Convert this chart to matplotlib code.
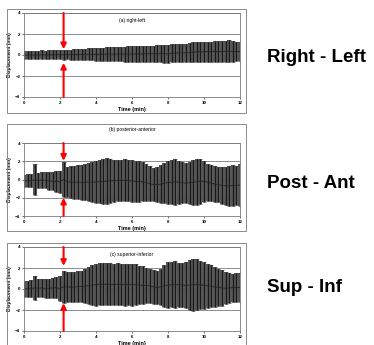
import matplotlib
matplotlib.use("Agg")
import matplotlib.pyplot as plt
from matplotlib.patches import Rectangle
import numpy as np

plt.rcParams["font.family"] = ["Liberation Sans", "DejaVu Sans"]

# time axis, one sample every 0.2 min
time_min = np.round(np.arange(0, 12.01, 0.2), 1)

rl_mean = [0.00, 0.00, 0.01, 0.00, 0.01, 0.02, 0.01, 0.02, 0.02, 0.03, 0.03,
           0.03, 0.04, 0.03, 0.04, 0.05, 0.05, 0.06, 0.05, 0.06, 0.07,
           0.07, 0.08, 0.08, 0.09, 0.08, 0.09, 0.10, 0.09, 0.10, 0.10,
           0.11, 0.10, 0.11, 0.12, 0.12, 0.11, 0.12, 0.13, 0.12, 0.10,
           0.15, 0.18, 0.20, 0.19, 0.21, 0.22, 0.28, 0.30, 0.31, 0.30,
           0.32, 0.31, 0.33, 0.32, 0.34, 0.35, 0.36, 0.34, 0.33, 0.35]
rl_sd = [0.36, 0.37, 0.38, 0.40, 0.39, 0.41, 0.40, 0.42, 0.41, 0.43, 0.44,
         0.46, 0.45, 0.47, 0.50, 0.52, 0.51, 0.55, 0.57, 0.58, 0.60,
         0.62, 0.63, 0.65, 0.66, 0.68, 0.67, 0.70, 0.71, 0.72, 0.74,
         0.75, 0.76, 0.75, 0.77, 0.78, 0.79, 0.80, 0.82, 0.84, 0.90,
         0.86, 0.85, 0.87, 0.86, 0.88, 0.90, 0.95, 0.97, 0.96, 0.95,
         0.96, 0.95, 0.97, 0.98, 0.96, 0.99, 1.05, 1.02, 0.92, 0.90]

pa_mean = [-0.15, -0.15, -0.12, -0.05, -0.10, -0.05, -0.10, -0.15, -0.20, -0.22, -0.25,
           0.00, -0.25, -0.28, -0.30, -0.30, -0.32, -0.30, -0.28, -0.30, -0.28,
           -0.25, -0.20, -0.18, -0.15, -0.12, -0.12, -0.10, -0.10, -0.12, -0.15,
           -0.20, -0.22, -0.25, -0.35, -0.45, -0.55, -0.55, -0.50, -0.40, -0.35,
           -0.30, -0.25, -0.30, -0.35, -0.40, -0.35, -0.30, -0.25, -0.20, -0.20,
           -0.30, -0.40, -0.50, -0.55, -0.65, -0.70, -0.70, -0.65, -0.65, -0.60]
pa_sd = [0.68, 0.70, 0.75, 1.70, 0.80, 0.85, 0.88, 0.95, 1.00, 1.10, 1.20,
         1.95, 1.65, 1.75, 1.80, 1.85, 1.90, 2.00, 2.10, 2.20, 2.30,
         2.35, 2.50, 2.55, 2.45, 2.30, 2.25, 2.28, 2.30, 2.25, 2.30,
         2.25, 2.20, 2.15, 2.05, 1.95, 1.80, 1.95, 2.05, 2.20, 2.35,
         2.40, 2.50, 2.35, 2.25, 2.20, 2.30, 2.45, 2.55, 2.45, 2.25,
         2.05, 2.00, 1.95, 1.90, 2.00, 2.10, 2.15, 2.20, 2.15, 2.30]

si_mean = [0.00, 0.02, 0.05, 0.10, 0.08, 0.10, 0.05, 0.08, 0.10, 0.12, 0.05,
           0.20, 0.20, 0.18, 0.20, 0.22, 0.25, 0.28, 0.30, 0.38, 0.42,
           0.45, 0.45, 0.45, 0.45, 0.42, 0.45, 0.42, 0.40, 0.42, 0.42,
           0.40, 0.38, 0.35, 0.32, 0.30, 0.20, 0.15, 0.20, 0.30, 0.38,
           0.40, 0.42, 0.40, 0.38, 0.35, 0.38, 0.40, 0.42, 0.40, 0.35,
           0.30, 0.25, 0.20, 0.15, 0.10, 0.08, 0.10, 0.12, 0.15, 0.15]
si_sd = [0.72, 0.75, 0.80, 1.15, 0.85, 0.90, 0.88, 0.92, 0.95, 1.00, 1.15,
         1.55, 1.45, 1.40, 1.42, 1.45, 1.50, 1.60, 1.75, 1.90, 2.00,
         2.00, 2.02, 1.98, 2.00, 1.95, 2.02, 1.98, 2.00, 1.95, 2.00,
         1.95, 1.85, 1.80, 1.70, 1.65, 1.60, 1.55, 1.75, 2.00, 2.15,
         2.15, 2.20, 2.10, 2.05, 2.20, 2.35, 2.45, 2.40, 2.30, 2.25,
         2.10, 2.00, 1.90, 1.80, 1.75, 1.50, 1.40, 1.35, 1.40, 1.35]

panel_titles = ["(a) right-left", "(b) posterior-anterior", "(c) superior-inferior"]
side_labels = ["Right - Left", "Post - Ant", "Sup - Inf"]
arrow_time = 2.2
arrow_tips = [(0.55, -0.75), (2.05, -2.0), (2.2, -1.35)]

x_ticks = [0, 2, 4, 6, 8, 10, 12]
y_ticks = [-4, -2, 0, 2, 4]

W, H = 374, 345
fig = plt.figure(figsize=(W / 100, H / 100), dpi=100)

# axes boxes in pixels: left, top, right, bottom
ax_px = [(24, 13, 240, 97), (24, 143, 240, 216), (24, 247, 240, 331)]
frame_px = [(7, 9, 246, 113), (7, 124, 246, 231), (7, 243, 246, 350)]
title_y = [0.915, 1.18, 0.915]
side_y = [57, 183, 288]

series = [(rl_mean, rl_sd), (pa_mean, pa_sd), (si_mean, si_sd)]

for i, (mean, sd) in enumerate(series):
    fx0, fy0, fx1, fy1 = frame_px[i]
    fig.patches.append(Rectangle((fx0 / W, 1 - fy1 / H), (fx1 - fx0) / W, (fy1 - fy0) / H,
                                 transform=fig.transFigure, fill=False,
                                 edgecolor="#8a8a8a", lw=0.7))
    l, t, r, b = ax_px[i]
    ax = fig.add_axes([l / W, 1 - b / H, (r - l) / W, (b - t) / H])
    ax.set_xlim(0, 12)
    ax.set_ylim(-4, 4)
    ax.set_xticks(x_ticks)
    ax.set_yticks(y_ticks)
    ax.tick_params(labelsize=3.2, length=1.2, width=0.4, pad=1.5)
    for lab in ax.get_xticklabels() + ax.get_yticklabels():
        lab.set_fontweight("bold")
    for s in ax.spines.values():
        s.set_color("#7a7a7a")
        s.set_linewidth(0.6)
    ax.grid(axis="y", color="#7a7a7a", lw=0.6)
    ax.set_axisbelow(True)

    m = np.array(mean)
    e = np.array(sd)
    ax.errorbar(time_min, m, yerr=e, fmt="none", ecolor="#4e4e4e",
                elinewidth=2.8, capsize=1.3, capthick=0.5)
    ax.errorbar(time_min, m, yerr=e, fmt="none", ecolor="#0a0a0a",
                elinewidth=0.55)
    ax.plot(time_min, m, color="#222222", lw=0.6)

    top_tip, bot_tip = arrow_tips[i]
    arr = dict(arrowstyle="-|>", color="red", lw=1.5, mutation_scale=8,
               shrinkA=0, shrinkB=0)
    ax.annotate("", xy=(arrow_time, top_tip), xytext=(arrow_time, 4),
                arrowprops=arr, annotation_clip=False)
    ax.annotate("", xy=(arrow_time, bot_tip), xytext=(arrow_time, -4),
                arrowprops=arr, annotation_clip=False)

    ax.text(0.5, title_y[i], panel_titles[i], transform=ax.transAxes,
            ha="center", va="center", fontsize=3.6)
    ax.set_xlabel("Time (min)", fontsize=4, fontweight="bold", labelpad=1.5)
    ax.set_ylabel("Displacement (mm)", fontsize=3.4, fontweight="bold", labelpad=2)

    fig.text(267 / W, 1 - side_y[i] / H, side_labels[i], fontsize=13.5,
             fontweight="bold", ha="left", va="center")

fig.savefig("out.png", dpi=100)
